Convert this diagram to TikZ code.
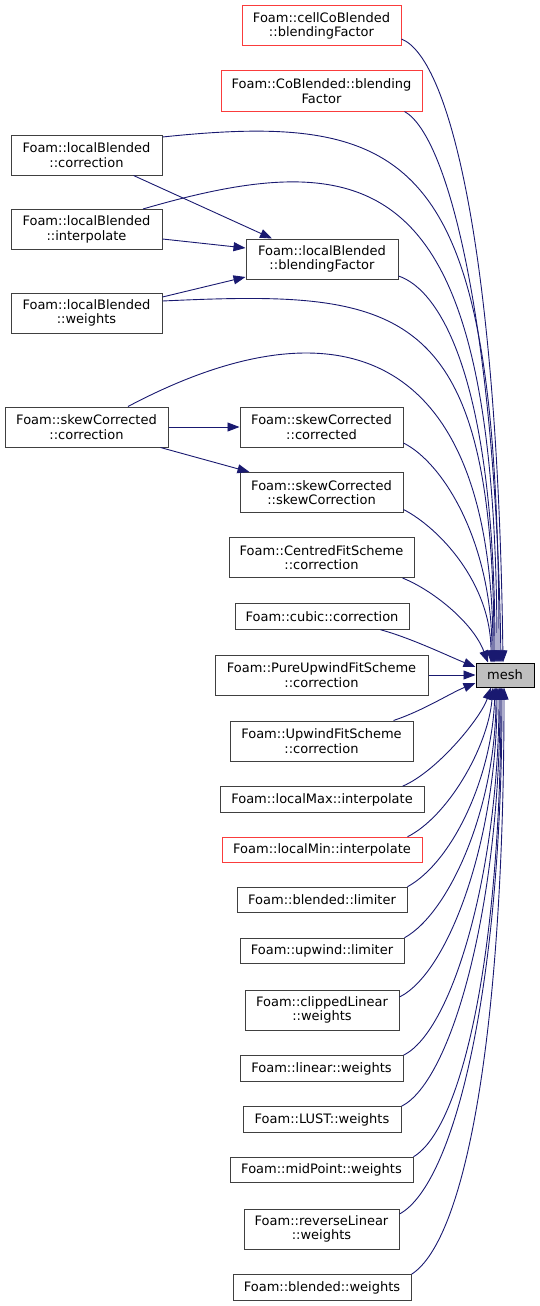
\documentclass[tikz,border=0pt]{standalone}
\usepackage{fontspec}
\setmainfont{DejaVu Sans}
\usetikzlibrary{arrows.meta}
\definecolor{edgeblue}{RGB}{25,25,112}
\definecolor{boxgrey}{RGB}{64,64,64}
\definecolor{boxred}{RGB}{250,60,60}
\definecolor{meshfill}{RGB}{191,191,191}

\begin{document}
\begin{tikzpicture}[
    x=1pt, y=-1pt,
    box/.style={
        draw=boxgrey,
        line width=1pt,
        fill=white,
        minimum height=40pt,
        inner sep=2pt,
        align=center,
        font=\fontsize{13}{14.7}\selectfont
    },
    onebox/.style={
        box,
        minimum height=25.5pt
    },
    redbox/.style={
        box,
        draw=boxred
    },
    call/.style={
        -{Triangle[length=12pt,width=9pt]},
        draw=edgeblue,
        line width=0.9pt
    }
]
\useasboundingbox (0,0) rectangle (540,1306);

% ============================================================
% Called function
% ============================================================

\node[onebox, fill=meshfill, draw=black, minimum width=58pt, minimum height=24pt]
    (mesh) at (505,675) {mesh};

% ============================================================
% Blending factors
% ============================================================

\node[redbox, minimum width=159pt] (cellCoBF) at (321.5,26)
{Foam::cellCoBlended\\::blendingFactor};

\node[redbox, minimum width=201pt] (coBF) at (321.5,91)
{Foam::CoBlended::blending\\Factor};

\node[box, minimum width=151pt] (lbCorr) at (86.5,155)
{Foam::localBlended\\::correction};

\node[box, minimum width=151pt] (lbInterp) at (86.5,229.5)
{Foam::localBlended\\::interpolate};

\node[box, minimum width=152pt] (lbBF) at (322,259)
{Foam::localBlended\\::blendingFactor};

\node[box, minimum width=151pt] (lbWeights) at (86.5,313)
{Foam::localBlended\\::weights};

\draw[call] ([xshift=47pt]lbCorr.south) -- ([xshift=-50pt]lbBF.north);
\draw[call] ([yshift=-9.5pt]lbInterp.east) -- ([yshift=11pt]lbBF.west);
\draw[call] ([yshift=16pt]lbWeights.east) -- ([yshift=-18pt]lbBF.west);

% ============================================================
% Skew corrected
% ============================================================

\node[box, minimum width=163pt] (scCorr) at (86.5,427)
{Foam::skewCorrected\\::correction};

\node[box, minimum width=163pt] (scCorrected) at (321.5,427)
{Foam::skewCorrected\\::corrected};

\node[box, minimum width=163pt] (scSkewCorr) at (321.5,492.5)
{Foam::skewCorrected\\::skewCorrection};

\draw[call] (scCorr.east) -- (scCorrected.west);
\draw[call] ([xshift=-8pt]scCorr.south east) -- ([xshift=-72pt]scSkewCorr.north);

% ============================================================
% Corrections, interpolates, limiters, weights
% ============================================================

\node[box, minimum width=185pt] (centredFit) at (321.5,557.5)
{Foam::CentredFitScheme\\::correction};

\node[onebox, minimum width=174pt] (cubicCorr) at (322,616.5)
{Foam::cubic::correction};

\node[box, minimum width=213pt] (pureUpwindFit) at (321.5,675)
{Foam::PureUpwindFitScheme\\::correction};

\node[box, minimum width=183pt] (upwindFit) at (321.5,741)
{Foam::UpwindFitScheme\\::correction};

\node[onebox, minimum width=204pt] (localMaxInterp) at (322,799.5)
{Foam::localMax::interpolate};

\node[onebox, redbox, minimum height=25.5pt, minimum width=200pt] (localMinInterp) at (322,850)
{Foam::localMin::interpolate};

\node[onebox, minimum width=170pt] (blendedLimiter) at (322,900)
{Foam::blended::limiter};

\node[onebox, minimum width=164pt] (upwindLimiter) at (322,951)
{Foam::upwind::limiter};

\node[box, minimum width=154pt] (clippedLinearW) at (322,1010)
{Foam::clippedLinear\\::weights};

\node[onebox, minimum width=163pt] (linearW) at (321.5,1068.5)
{Foam::linear::weights};

\node[onebox, minimum width=158pt] (lustW) at (322,1119.5)
{Foam::LUST::weights};

\node[onebox, minimum width=183pt] (midPointW) at (321.5,1170)
{Foam::midPoint::weights};

\node[box, minimum width=155pt] (reverseLinearW) at (321.5,1229)
{Foam::reverseLinear\\::weights};

\node[onebox, minimum width=178pt] (blendedW) at (322,1287.5)
{Foam::blended::weights};

% ============================================================
% Calls into mesh
% ============================================================

\draw[call] ([yshift=-13pt]cellCoBF.east)
    .. controls +(50,20) and +(-5,-400) .. ([xshift=-2pt]mesh.north);
\draw[call] ([xshift=-18pt]coBF.south east)
    .. controls +(45,25) and +(-5,-330) .. ([xshift=-4pt]mesh.north);
\draw[call] ([yshift=18pt]lbCorr.east)
    .. controls +(258,-27) and +(0,-503) .. ([xshift=-6pt]mesh.north);
\draw[call] ([xshift=56.5pt]lbInterp.north)
    .. controls +(237,-69) and +(0,-488) .. ([xshift=-8pt]mesh.north);
\draw[call] ([yshift=-17pt]lbBF.east)
    .. controls +(42,14) and +(0,-283) .. ([xshift=-10pt]mesh.north);
\draw[call] ([yshift=12pt]lbWeights.east)
    .. controls +(238,-11) and +(0,-363) .. ([xshift=-11pt]mesh.north);
\draw[call] ([xshift=41.5pt]scCorr.north)
    .. controls +(202,-107) and +(0,-323) .. ([xshift=-12pt]mesh.north);
\draw[call] ([yshift=-16pt]scCorrected.east)
    .. controls +(40,20) and +(0,-120) .. ([xshift=-13pt]mesh.north);
\draw[call] ([yshift=-17pt]scSkewCorr.east)
    .. controls +(35,18) and +(0,-80) .. ([xshift=-14pt]mesh.north);
\draw[call] ([xshift=-12pt]centredFit.south east)
    .. controls +(30,12) and +(-15,-40) .. ([xshift=-17pt]mesh.north);
\draw[call] ([xshift=-29pt]cubicCorr.south east)
    .. controls +(30,8) and +(-25,-10) .. ([yshift=8pt]mesh.west);
\draw[call] (pureUpwindFit.east) -- (mesh.west);
\draw[call] ([xshift=-20pt]upwindFit.north east)
    .. controls +(30,-10) and +(-25,10) .. ([yshift=-8pt]mesh.west);
\draw[call] ([xshift=-22pt]localMaxInterp.north east)
    .. controls +(35,-15) and +(-10,30) .. ([xshift=-14pt]mesh.south);
\draw[call] ([xshift=-15pt]localMinInterp.north east)
    .. controls +(40,-20) and +(-5,60) .. ([xshift=-12pt]mesh.south);
\draw[call] (blendedLimiter.north east)
    .. controls +(45,-25) and +(-3,90) .. ([xshift=-10pt]mesh.south);
\draw[call] (upwindLimiter.north east)
    .. controls +(45,-25) and +(0,120) .. ([xshift=-9pt]mesh.south);
\draw[call] ([yshift=13pt]clippedLinearW.east)
    .. controls +(50,-25) and +(0,150) .. ([xshift=-8pt]mesh.south);
\draw[call] (linearW.north east)
    .. controls +(50,-25) and +(0,180) .. ([xshift=-6pt]mesh.south);
\draw[call] (lustW.north east)
    .. controls +(50,-25) and +(0,220) .. ([xshift=-5pt]mesh.south);
\draw[call] (midPointW.north east)
    .. controls +(50,-30) and +(0,260) .. ([xshift=-4pt]mesh.south);
\draw[call] ([yshift=15pt]reverseLinearW.east)
    .. controls +(55,-30) and +(0,300) .. ([xshift=-3pt]mesh.south);
\draw[call] (blendedW.north east)
    .. controls +(55,-35) and +(0,340) .. ([xshift=-1pt]mesh.south);

\end{tikzpicture}
\end{document}
